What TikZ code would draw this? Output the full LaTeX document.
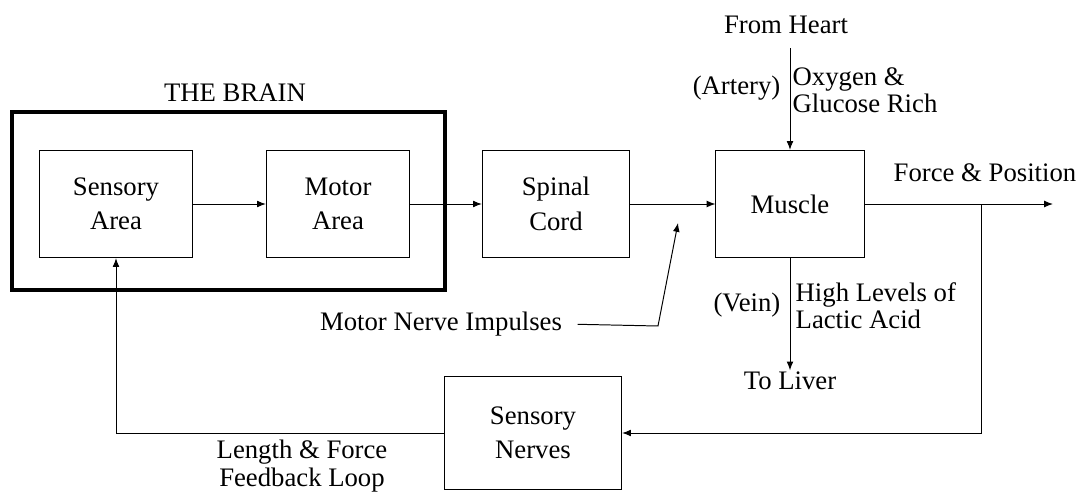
\documentclass[tikz,border=0pt]{standalone}
\usepackage{fontspec}
\setmainfont{Liberation Serif}
\usetikzlibrary{arrows.meta}
\def\boxfont{\fontsize{19}{24.5}\selectfont}
\def\tagfont{\fontsize{19}{19.5}\selectfont}
\tikzset{block/.style={draw,line width=0.7pt,minimum height=2.68cm,align=center,font=\boxfont},
  tag/.style={inner sep=1pt,align=left,font=\tagfont},
  flow/.style={line width=0.7pt,-{Latex[length=2.2mm,width=1.7mm]}}}

\begin{document}
\begin{tikzpicture}[x=0.025cm,y=-0.025cm]
\useasboundingbox (0,0) rectangle (1081,493);
% ブロック
\draw[line width=2.2pt] (12,112) rectangle (445,290);
\node[block,minimum width=3.83cm] (sensory) at (116,204) {Sensory\\Area};
\node[block,minimum width=3.58cm] (motor) at (338,204) {Motor\\Area};
\node[block,minimum width=3.68cm] (spinal) at (556,204) {Spinal\\Cord};
\node[block,minimum width=3.7cm] (muscle) at (790,204) {Muscle};
\node[block,minimum width=4.43cm,minimum height=2.8cm] (nerves) at (533,433) {Sensory\\Nerves};
% 座標
\coordinate (artery) at (790,48);
\coordinate (force) at (1053,204);
\coordinate (split) at (981,204);
\coordinate (kink) at (658,326);
\coordinate (tip) at (678,223);
% テキスト
\node[tag] at (235,93) {THE BRAIN};
\node[tag] at (786,25) {From Heart};
\node[tag,anchor=east] at (782,88) {(Artery)};
\node[tag,anchor=west] at (791,90) {Oxygen \&\\Glucose Rich};
\node[tag,anchor=east] at (782,305) {(Vein)};
\node[tag,anchor=west] at (794,306) {High Levels of\\Lactic Acid};
\node[tag] (liver) at (790,381) {To Liver};
\node[tag] at (985,173) {Force \& Position};
\node[tag] (impulse) at (441,324) {Motor Nerve Impulses};
\node[tag,align=center] at (302,466) {Length \& Force\\Feedback Loop};
% 矢印
\draw[flow] (sensory) -- (motor);
\draw[flow] (motor) -- (spinal);
\draw[flow] (spinal) -- (muscle);
\draw[flow] (muscle) -- (force);
\draw[flow] (artery) -- (muscle);
\draw[flow] (muscle) -- (liver);
\draw[flow] (split) |- (nerves);
\draw[flow] (nerves) -| (sensory);
\draw[flow,shorten <=10pt] (impulse.east) -- (kink) -- (tip);
\end{tikzpicture}
\end{document}
